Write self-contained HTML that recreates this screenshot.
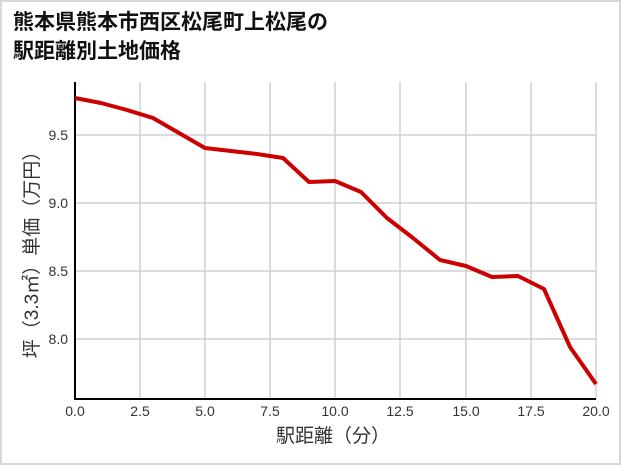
<!DOCTYPE html>
<html><head><meta charset="utf-8"><style>
body{margin:0;background:#fff;}
.f{position:absolute;left:0;top:0;width:617px;height:461px;border:2px solid #d8d8d8;}
</style></head><body>
<div style="position:relative;width:621px;height:465px;">
<div class="f"></div>
<svg width="621" height="465" style="position:absolute;left:0;top:0" font-family="'Liberation Sans','Noto Sans CJK JP',sans-serif">
<text x="13" y="29" font-size="21" font-weight="bold" fill="#111">熊本県熊本市西区松尾町上松尾の</text>
<text x="13" y="58" font-size="21" font-weight="bold" fill="#111">駅距離別土地価格</text>
<g stroke="#d0d0d0" stroke-width="1.5">
<line x1="140" y1="82" x2="140" y2="399"/><line x1="205" y1="82" x2="205" y2="399"/><line x1="270" y1="82" x2="270" y2="399"/><line x1="335" y1="82" x2="335" y2="399"/><line x1="400" y1="82" x2="400" y2="399"/><line x1="466" y1="82" x2="466" y2="399"/><line x1="531" y1="82" x2="531" y2="399"/><line x1="596" y1="82" x2="596" y2="399"/>
<line x1="75" y1="135" x2="596" y2="135"/><line x1="75" y1="203" x2="596" y2="203"/><line x1="75" y1="271" x2="596" y2="271"/><line x1="75" y1="339" x2="596" y2="339"/>
</g>
<line x1="75" y1="82" x2="75" y2="400" stroke="#000" stroke-width="2"/>
<line x1="74" y1="399" x2="596" y2="399" stroke="#000" stroke-width="2"/>
<polyline fill="none" stroke="#cc0000" stroke-width="4" stroke-linejoin="round" points="75,98 101,103 127,110 153,118 179,133 205,148 231,151 257,154 283,158 309,182 335,181 361,192 387,218 413,238 440,260 466,266 492,277 518,276 544,289 570,347 596,384"/>
<g font-size="14" fill="#333" text-anchor="end">
<text x="68" y="140">9.5</text><text x="68" y="208">9.0</text><text x="68" y="276">8.5</text><text x="68" y="344">8.0</text>
</g>
<g font-size="14" fill="#333" text-anchor="middle">
<text x="75" y="416">0.0</text><text x="140" y="416">2.5</text><text x="205" y="416">5.0</text><text x="270" y="416">7.5</text><text x="335" y="416">10.0</text><text x="400" y="416">12.5</text><text x="466" y="416">15.0</text><text x="531" y="416">17.5</text><text x="596" y="416">20.0</text>
</g>
<text x="333" y="442" font-size="19" fill="#333" text-anchor="middle">駅距離（分）</text>
<text transform="translate(38,250) rotate(-90)" font-size="19" fill="#333" text-anchor="middle">坪（3.3㎡）単価（万円）</text>
</svg></div></body></html>
